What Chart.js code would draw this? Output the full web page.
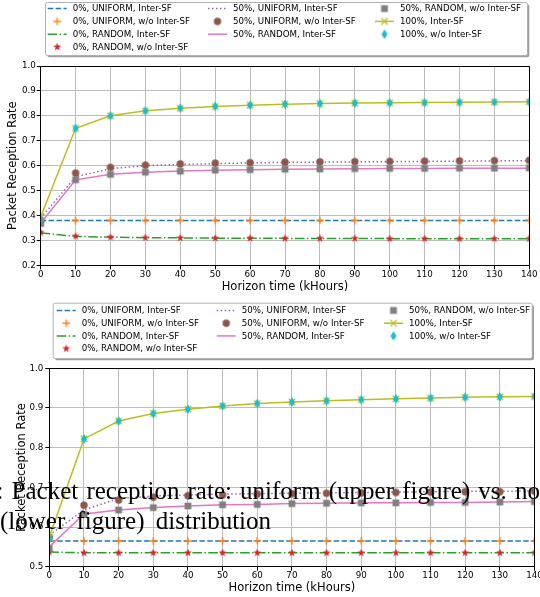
<!DOCTYPE html>
<html>
<head>
<meta charset="utf-8">
<title>Packet reception rate</title>
<script src="https://cdn.jsdelivr.net/npm/chart.js@4.4.1/dist/chart.umd.min.js"></script>
<style>
  html, body { margin: 0; padding: 0; background: #fff; width: 540px; height: 597px; overflow: hidden; }
  #wrap { position: relative; width: 540px; height: 597px; overflow: hidden; }
  canvas { position: absolute; left: 0; }
  #chartTop { top: 0; }
  #chartBottom { top: 297px; }
  .caption {
    position: absolute; z-index: 5; pointer-events: none;
    font-family: "Liberation Serif", "DejaVu Serif", serif;
    font-size: 25px; line-height: 30px; color: #000; white-space: nowrap;
  }
</style>
</head>
<body>
<div id="wrap">
  <canvas id="chartTop" width="540" height="297"></canvas>
  <canvas id="chartBottom" width="540" height="300"></canvas>
  <div class="caption" style="left:-3.5px; top:475.6px; word-spacing:1.9px;">: Packet reception rate: uniform (upper figure) vs. no</div>
  <div class="caption" style="left:0px; top:505.6px; word-spacing:5px;">(lower figure) distribution</div>
</div>
<script>
// ---------- data ----------
const horizonK = [0, 10, 20, 30, 40, 50, 60, 70, 80, 90, 100, 110, 120, 130, 140];
const xTicks = [0, 10, 20, 30, 40, 50, 60, 70, 80, 90, 100, 110, 120, 130, 140];

const seriesLabels = [
  '0%, UNIFORM, Inter-SF',
  '0%, UNIFORM, w/o Inter-SF',
  '0%, RANDOM, Inter-SF',
  '0%, RANDOM, w/o Inter-SF',
  '50%, UNIFORM, Inter-SF',
  '50%, UNIFORM, w/o Inter-SF',
  '50%, RANDOM, Inter-SF',
  '50%, RANDOM, w/o Inter-SF',
  '100%, Inter-SF',
  '100%, w/o Inter-SF'
];

// upper panel: uniform distribution
const upUni0Inter  = [0.38, 0.38, 0.38, 0.38, 0.38, 0.38, 0.38, 0.38, 0.38, 0.38, 0.38, 0.38, 0.38, 0.38, 0.38];
const upUni0Wo     = [0.38, 0.38, 0.38, 0.38, 0.38, 0.38, 0.38, 0.38, 0.38, 0.38, 0.38, 0.38, 0.38, 0.38, 0.38];
const upRnd0Inter  = [0.330, 0.316, 0.313, 0.311, 0.310, 0.309, 0.309, 0.308, 0.308, 0.308, 0.307, 0.307, 0.307, 0.307, 0.307];
const upRnd0Wo     = [0.332, 0.317, 0.313, 0.311, 0.310, 0.309, 0.309, 0.308, 0.308, 0.308, 0.307, 0.307, 0.307, 0.307, 0.307];
const upUni50Inter = [0.390, 0.555, 0.588, 0.600, 0.605, 0.608, 0.611, 0.613, 0.614, 0.615, 0.616, 0.617, 0.618, 0.619, 0.620];
const upUni50Wo    = [0.380, 0.570, 0.593, 0.602, 0.607, 0.610, 0.612, 0.614, 0.615, 0.616, 0.617, 0.618, 0.619, 0.620, 0.621];
const upRnd50Inter = [0.370, 0.543, 0.565, 0.574, 0.579, 0.582, 0.584, 0.586, 0.587, 0.588, 0.589, 0.589, 0.590, 0.590, 0.590];
const upRnd50Wo    = [0.368, 0.543, 0.565, 0.574, 0.578, 0.582, 0.584, 0.586, 0.587, 0.588, 0.589, 0.589, 0.590, 0.590, 0.591];
const up100Inter   = [0.395, 0.750, 0.800, 0.820, 0.830, 0.837, 0.842, 0.846, 0.849, 0.851, 0.852, 0.853, 0.854, 0.855, 0.856];
const up100Wo      = [0.385, 0.750, 0.800, 0.820, 0.831, 0.838, 0.843, 0.847, 0.849, 0.851, 0.852, 0.853, 0.854, 0.855, 0.856];

// lower panel: non-uniform distribution
const loUni0Inter  = [0.565, 0.565, 0.565, 0.565, 0.565, 0.565, 0.565, 0.565, 0.565, 0.565, 0.565, 0.565, 0.565, 0.565, 0.565];
const loUni0Wo     = [0.565, 0.565, 0.565, 0.565, 0.565, 0.565, 0.565, 0.565, 0.565, 0.565, 0.565, 0.565, 0.565, 0.565, 0.565];
const loRnd0Inter  = [0.537, 0.535, 0.535, 0.535, 0.535, 0.535, 0.535, 0.535, 0.535, 0.535, 0.535, 0.535, 0.535, 0.535, 0.535];
const loRnd0Wo     = [0.537, 0.535, 0.535, 0.535, 0.535, 0.535, 0.535, 0.535, 0.535, 0.535, 0.535, 0.535, 0.535, 0.535, 0.535];
const loUni50Inter = [0.580, 0.643, 0.672, 0.678, 0.681, 0.683, 0.684, 0.685, 0.686, 0.687, 0.688, 0.689, 0.690, 0.690, 0.691];
const loUni50Wo    = [0.575, 0.655, 0.668, 0.675, 0.679, 0.681, 0.683, 0.684, 0.685, 0.686, 0.687, 0.688, 0.689, 0.689, 0.690];
const loRnd50Inter = [0.550, 0.633, 0.643, 0.649, 0.653, 0.656, 0.657, 0.659, 0.660, 0.661, 0.661, 0.662, 0.662, 0.663, 0.664];
const loRnd50Wo    = [0.546, 0.632, 0.643, 0.649, 0.653, 0.656, 0.657, 0.659, 0.660, 0.661, 0.661, 0.662, 0.662, 0.663, 0.664];
const lo100Inter   = [0.575, 0.822, 0.867, 0.886, 0.897, 0.905, 0.911, 0.915, 0.918, 0.921, 0.923, 0.925, 0.927, 0.928, 0.929];
const lo100Wo      = [0.570, 0.822, 0.867, 0.886, 0.897, 0.905, 0.911, 0.915, 0.918, 0.921, 0.923, 0.925, 0.927, 0.928, 0.929];

const upperSeries = [upUni0Inter, upUni0Wo, upRnd0Inter, upRnd0Wo, upUni50Inter, upUni50Wo, upRnd50Inter, upRnd50Wo, up100Inter, up100Wo];
const lowerSeries = [loUni0Inter, loUni0Wo, loRnd0Inter, loRnd0Wo, loUni50Inter, loUni50Wo, loRnd50Inter, loRnd50Wo, lo100Inter, lo100Wo];

// legend columns (matplotlib fills 10 entries in 3 columns as 4 / 3 / 3)
const legendColumns = [[0, 1, 2, 3], [4, 5, 6], [7, 8, 9]];

// ---------- styles (matplotlib tab10 cycle) ----------
const seriesStyle = [
  { color: '#1f77b4', line: true, dash: [5.5, 2.4] },
  { color: '#ff7f0e', marker: 'plus' },
  { color: '#2ca02c', line: true, dash: [9.6, 2.4, 1.5, 2.4] },
  { color: '#d62728', marker: 'star' },
  { color: '#9467bd', line: true, dash: [1.5, 2.5] },
  { color: '#8c564b', marker: 'circle' },
  { color: '#e377c2', line: true },
  { color: '#7f7f7f', marker: 'square' },
  { color: '#bcbd22', line: true, marker: 'cross' },
  { color: '#17becf', marker: 'thinDiamond' }
];

Chart.defaults.font.family = '"DejaVu Sans", sans-serif';
Chart.defaults.color = '#000';

// small offscreen sprites used as point styles (and in the legend)
function makeMarker(kind, color) {
  const size = 14, c = size / 2;
  const cv = document.createElement('canvas');
  cv.width = size; cv.height = size;
  const g = cv.getContext('2d');
  g.fillStyle = color;
  g.strokeStyle = color;
  g.lineWidth = 1.3;
  g.beginPath();
  if (kind === 'circle') {
    g.arc(c, c, 3.7, 0, Math.PI * 2);
    g.fill();
  } else if (kind === 'square') {
    g.rect(c - 3.4, c - 3.4, 6.8, 6.8);
    g.fill();
  } else if (kind === 'star') {
    for (let k = 0; k < 10; k++) {
      const r = k % 2 ? 1.7 : 4.2;
      const a = -Math.PI / 2 + k * Math.PI / 5;
      g.lineTo(c + r * Math.cos(a), c + r * Math.sin(a));
    }
    g.closePath();
    g.fill();
  } else if (kind === 'thinDiamond') {
    g.moveTo(c, c - 4.8);
    g.lineTo(c + 3, c);
    g.lineTo(c, c + 4.8);
    g.lineTo(c - 3, c);
    g.closePath();
    g.fill();
  } else if (kind === 'plus') {
    g.moveTo(c - 3.8, c); g.lineTo(c + 3.8, c);
    g.moveTo(c, c - 3.8); g.lineTo(c, c + 3.8);
    g.stroke();
  } else if (kind === 'cross') {
    g.moveTo(c - 3.2, c - 3.2); g.lineTo(c + 3.2, c + 3.2);
    g.moveTo(c - 3.2, c + 3.2); g.lineTo(c + 3.2, c - 3.2);
    g.stroke();
  }
  return cv;
}

const markerSprites = seriesStyle.map(st => st.marker ? makeMarker(st.marker, st.color) : null);

function buildDatasets(values) {
  return values.map((vals, i) => {
    const st = seriesStyle[i];
    return {
      label: seriesLabels[i],
      data: horizonK.map((h, k) => ({ x: h, y: vals[k] })),
      borderColor: st.color,
      backgroundColor: st.color,
      borderWidth: 1.5,
      borderDash: st.dash || [],
      showLine: !!st.line,
      pointStyle: markerSprites[i] || 'circle',
      pointRadius: st.marker ? 4 : 0,
      pointHoverRadius: st.marker ? 4 : 0,
      tension: 0,
      clip: 0,
      order: -i
    };
  });
}

// black box around the plotting area (all four spines)
const framePlugin = {
  id: 'axesFrame',
  afterDatasetsDraw(chart) {
    const { ctx, chartArea: a } = chart;
    const al = v => Math.round(v - 0.5) + 0.5;
    ctx.save();
    ctx.strokeStyle = '#000';
    ctx.lineWidth = 1;
    ctx.strokeRect(al(a.left), al(a.top), al(a.right) - al(a.left), al(a.bottom) - al(a.top));
    ctx.restore();
  }
};

// three-column legend above the axes, with a drop shadow
const boxLegendPlugin = {
  id: 'boxLegend',
  afterDraw(chart, args, opts) {
    const { ctx } = chart;
    const w = opts.right - opts.left, h = opts.bottom - opts.top;
    ctx.save();
    ctx.fillStyle = 'rgba(60,60,60,0.5)';
    ctx.beginPath();
    ctx.roundRect(opts.left + 2.3, opts.top + 2.3, w, h, 2);
    ctx.fill();
    ctx.fillStyle = '#fff';
    ctx.strokeStyle = '#b0b0b0';
    ctx.lineWidth = 1;
    ctx.beginPath();
    ctx.roundRect(opts.left + 0.5, opts.top + 0.5, w, h, 2);
    ctx.fill();
    ctx.stroke();

    ctx.font = '8.7px "DejaVu Sans"';
    ctx.textBaseline = 'middle';
    ctx.textAlign = 'left';
    legendColumns.forEach((members, col) => {
      members.forEach((i, row) => {
        const tx = opts.textX[col];
        const y = opts.firstRow + row * opts.rowStep;
        const st = seriesStyle[i];
        const x0 = tx - 25, x1 = tx - 6;
        if (st.line) {
          ctx.save();
          ctx.strokeStyle = st.color;
          ctx.lineWidth = 1.5;
          ctx.setLineDash(st.dash || []);
          ctx.beginPath();
          ctx.moveTo(x0, y);
          ctx.lineTo(x1, y);
          ctx.stroke();
          ctx.restore();
        }
        if (markerSprites[i]) {
          const m = markerSprites[i];
          ctx.drawImage(m, (x0 + x1) / 2 - m.width / 2, y - m.height / 2);
        }
        ctx.fillStyle = '#000';
        ctx.fillText(seriesLabels[i], tx, y + 0.5);
      });
    });
    ctx.restore();
  }
};

function makeChart(canvasId, values, yMin, yMax, geom) {
  return new Chart(document.getElementById(canvasId), {
    type: 'line',
    data: { datasets: buildDatasets(values) },
    plugins: [framePlugin, boxLegendPlugin],
    options: {
      responsive: false,
      animation: false,
      events: [],
      layout: { padding: { top: geom.padTop, right: geom.padRight, bottom: 0, left: 0 } },
      plugins: {
        legend: { display: false },
        tooltip: { enabled: false },
        boxLegend: geom.legend
      },
      scales: {
        x: {
          type: 'linear',
          min: 0,
          max: 140,
          afterBuildTicks(s) { s.ticks = xTicks.map(v => ({ value: v })); },
          afterFit(s) { s.height = geom.xAxisH; s.paddingLeft = 0; s.paddingRight = 0; },
          border: { display: false },
          grid: { color: '#bdbdbd', lineWidth: 1, tickColor: '#000', tickLength: 4, tickWidth: 1 },
          ticks: { autoSkip: false, maxRotation: 0, minRotation: 0, padding: 0, font: { size: 8.7 }, color: '#000' },
          title: {
            display: true, text: 'Horizon time (kHours)', color: '#000',
            font: { size: 11.5, lineHeight: 1 }, padding: { top: 0, bottom: geom.xTitlePad }
          }
        },
        y: {
          min: yMin,
          max: yMax,
          afterFit(s) { s.width = geom.yAxisW; s.paddingTop = 0; s.paddingBottom = 0; },
          border: { display: false },
          grid: { color: '#bdbdbd', lineWidth: 1, tickColor: '#000', tickLength: 4, tickWidth: 1 },
          ticks: {
            stepSize: 0.1, padding: geom.yTickPad, font: { size: 8.7 }, color: '#000',
            callback: v => Number(v).toFixed(1)
          },
          title: {
            display: true, text: 'Packet Reception Rate', color: '#000',
            font: { size: 11.5, lineHeight: 1 }, padding: { top: geom.yTitlePad, bottom: 0 }
          }
        }
      }
    }
  });
}

makeChart('chartTop', upperSeries, 0.2, 1.0, {
  padTop: 66, padRight: 10.7, xAxisH: 31.7, yAxisW: 40.7,
  yTitlePad: 7, xTitlePad: 4.2, yTickPad: 1,
  legend: { left: 45, top: 2, right: 527, bottom: 55, firstRow: 8.6, rowStep: 12.8, textX: [72.7, 233, 400] }
});

makeChart('chartBottom', lowerSeries, 0.5, 1.0, {
  padTop: 71.3, padRight: 2, xAxisH: 30.3, yAxisW: 49.3,
  yTitlePad: 16, xTitlePad: 3.25, yTickPad: 2,
  legend: { left: 52.7, top: 5.7, right: 531.7, bottom: 61, firstRow: 13.5, rowStep: 12.7, textX: [81.7, 241.7, 409] }
});
</script>
</body>
</html>
